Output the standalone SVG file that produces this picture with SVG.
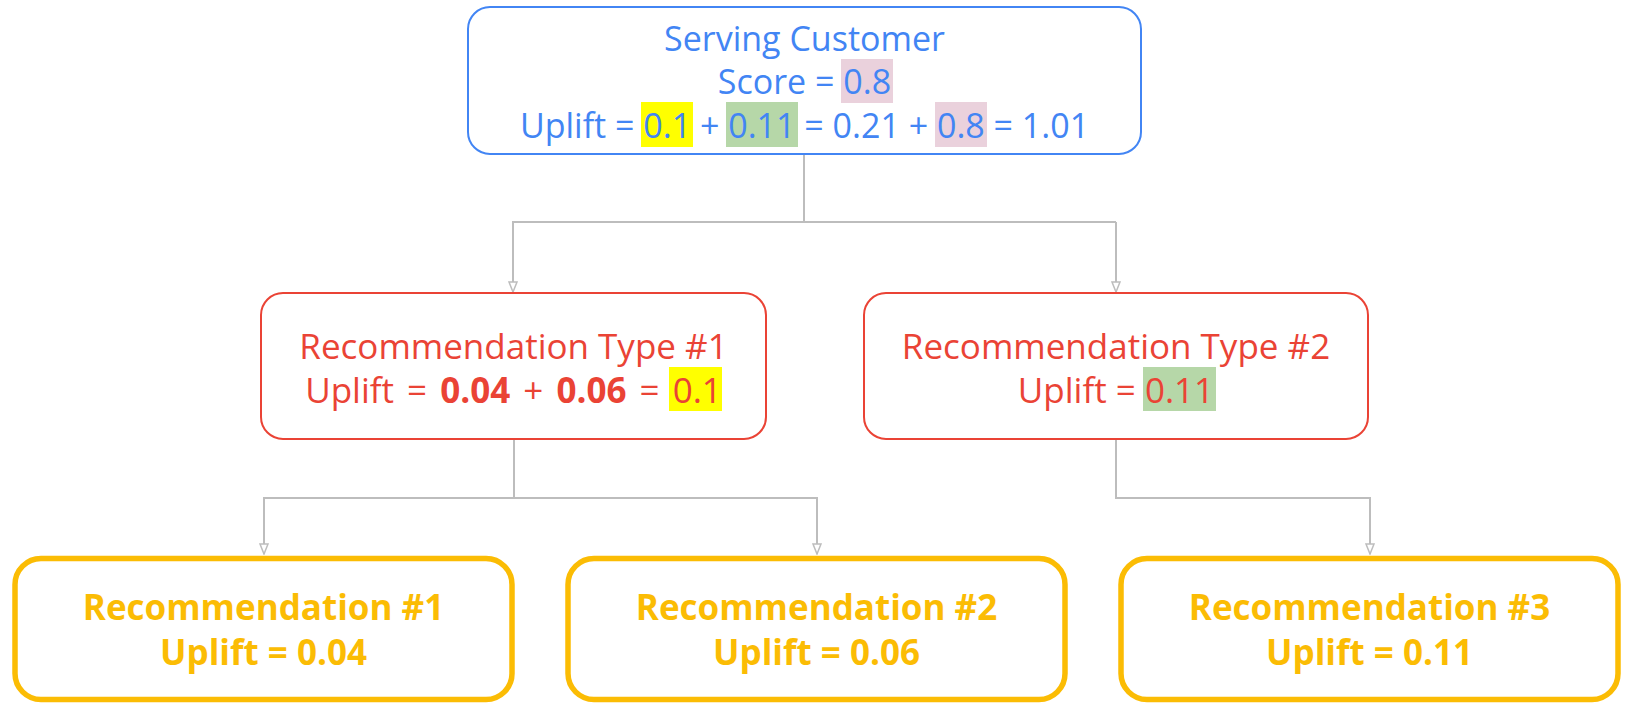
<svg xmlns="http://www.w3.org/2000/svg" width="1625" height="704" viewBox="0 0 1625 704">
<style>
text{font-family:"Open Sans","Liberation Sans",sans-serif;font-size:35px}
.top{font-size:34px}
.blue{fill:#4285F4}
.red{fill:#EA4335}
.yel{fill:#FBBC04;font-weight:bold}
.m{text-anchor:middle}
.b{font-weight:bold}
.boxB{fill:#fff;stroke:#4285F4;stroke-width:2}
.boxR{fill:#fff;stroke:#EA4335;stroke-width:2}
.boxY{fill:#fff;stroke:#FBBC04;stroke-width:5.5}
.conn{fill:none;stroke:#BDBDBD;stroke-width:2}
.hy{fill:#FFFF00}
.hg{fill:#B6D7A8}
.hp{fill:#EAD1DC}
</style>
<defs>
<marker id="arr" viewBox="0 0 12 10" refX="11" refY="5" markerWidth="12" markerHeight="10" markerUnits="userSpaceOnUse" orient="auto">
<path d="M1,1 L11,5 L1,9 Z" fill="#fff" stroke="#BDBDBD" stroke-width="1.5"/>
</marker>
</defs>
<rect width="1625" height="704" fill="#fff"/>
<g id="connectors">
<path class="conn" d="M804,154 V222 M512,222 H1116"/>
<path class="conn" d="M513,222 V292" marker-end="url(#arr)"/>
<path class="conn" d="M1116,222 V292" marker-end="url(#arr)"/>
<path class="conn" d="M514,439 V498 M263,498 H818"/>
<path class="conn" d="M264,498 V554" marker-end="url(#arr)"/>
<path class="conn" d="M817,498 V554" marker-end="url(#arr)"/>
<path class="conn" d="M1116,439 V498 H1370 V554" marker-end="url(#arr)"/>
</g>
<g id="serving-customer">
<rect class="boxB" x="468" y="7" width="673" height="147" rx="22"/>
<rect class="hp" x="841" y="59" width="52" height="44"/>
<rect class="hy" x="641" y="102" width="52" height="45"/>
<rect class="hg" x="726" y="102" width="72" height="45"/>
<rect class="hp" x="935" y="102" width="52" height="45"/>
<text class="blue m top" x="804.5" y="51">Serving Customer</text>
<text class="blue m top" x="804.5" y="94">Score = 0.8</text>
<text class="blue m top" x="804.5" y="138">Uplift = 0.1 + 0.11 = 0.21 + 0.8 = 1.01</text>
</g>
<g id="rec-type-1">
<rect class="boxR" x="261" y="293" width="505" height="146" rx="22"/>
<rect class="hy" x="669" y="367" width="53" height="44"/>
<text class="red m" x="513.5" y="359">Recommendation Type #1</text>
<text class="red m" x="513.5" y="403" word-spacing="4">Uplift = <tspan class="b">0.04</tspan> + <tspan class="b">0.06</tspan> = 0.1</text>
</g>
<g id="rec-type-2">
<rect class="boxR" x="864" y="293" width="504" height="146" rx="22"/>
<rect class="hg" x="1143" y="367" width="73" height="44"/>
<text class="red m" x="1116" y="359">Recommendation Type #2</text>
<text class="red m" x="1116" y="403">Uplift = 0.11</text>
</g>
<g id="rec-1">
<rect class="boxY" x="15" y="558.5" width="497" height="141" rx="26"/>
<text class="yel m" x="263.5" y="620">Recommendation #1</text>
<text class="yel m" x="263.5" y="665">Uplift = 0.04</text>
</g>
<g id="rec-2">
<rect class="boxY" x="568" y="558.5" width="497" height="141" rx="26"/>
<text class="yel m" x="816.5" y="620">Recommendation #2</text>
<text class="yel m" x="816.5" y="665">Uplift = 0.06</text>
</g>
<g id="rec-3">
<rect class="boxY" x="1121" y="558.5" width="497" height="141" rx="26"/>
<text class="yel m" x="1369.5" y="620">Recommendation #3</text>
<text class="yel m" x="1369.5" y="665">Uplift = 0.11</text>
</g>
</svg>
